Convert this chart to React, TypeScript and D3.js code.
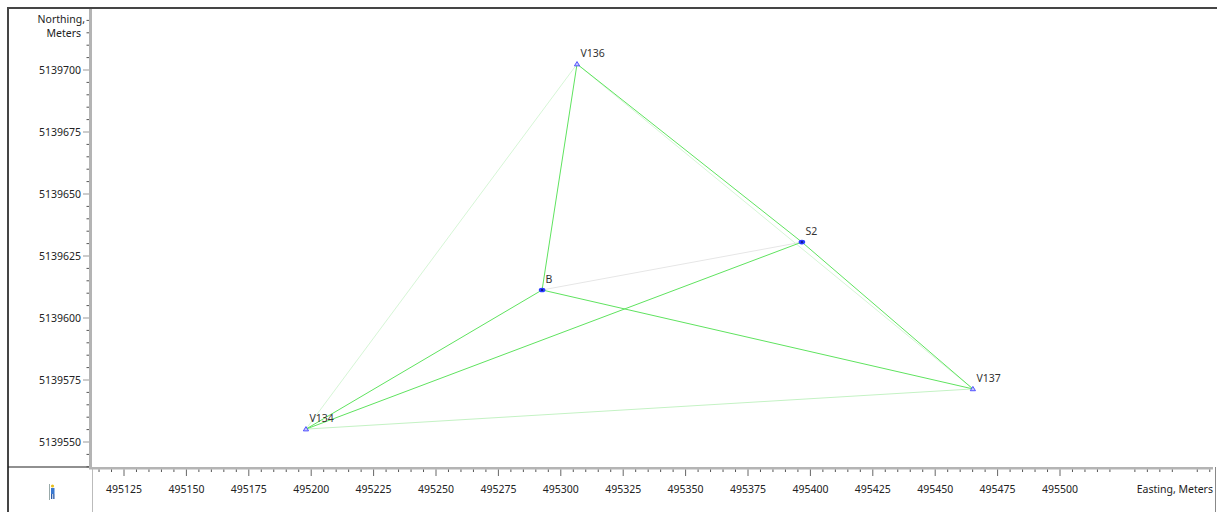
import React from "react";
import * as d3 from "d3";

const stations = ["V136", "S2", "B", "V137", "V134"];
const eastings = [495306.5, 495396.6, 495292.5, 495465.1, 495197.9];
const northings = [5139702.4, 5139630.6, 5139611.3, 5139571.4, 5139555.2];
const markerKinds = ["tri", "dot", "dot", "tri", "tri"];

// observations: from, to, strength
const obsFrom = ["V136", "V136", "S2", "B", "B", "S2", "V136", "V134", "B", "V136"];
const obsTo = ["B", "S2", "V137", "V137", "V134", "V134", "V134", "V137", "S2", "V137"];
const obsKind = ["strong", "strong", "strong", "strong", "strong", "strong", "faint", "light", "gray", "faint"];

const xTickValues = [495125, 495150, 495175, 495200, 495225, 495250, 495275, 495300, 495325, 495350, 495375, 495400, 495425, 495450, 495475, 495500];
const yTickValues = [5139550, 5139575, 5139600, 5139625, 5139650, 5139675, 5139700];

const FONT = "'Noto Sans', 'Open Sans', sans-serif";

export default function App() {
  const x = d3.scaleLinear().domain([495125, 495500]).range([124, 1060]);
  const y = d3.scaleLinear().domain([5139550, 5139700]).range([442, 70]);

  const axisY = 467;
  const axisX = 92;

  const xMin = Math.ceil(x.invert(axisX) / 5) * 5;
  const xMax = Math.floor(x.invert(1215) / 5) * 5;
  const xMinor = d3.range(xMin, xMax + 0.1, 5).filter((v) => v % 25 !== 0);
  const yMin = Math.ceil(y.invert(axisY) / 5) * 5;
  const yMax = Math.floor(y.invert(12) / 5) * 5;
  const yMinor = d3.range(yMin, yMax + 0.1, 5).filter((v) => v % 25 !== 0);

  const idx = (name: string) => stations.indexOf(name);
  const strokeFor: Record<string, string> = {
    strong: "#5fe35f",
    light: "#c4f2c4",
    faint: "#d6f6d6",
    gray: "#e6e6e6",
  };

  const order = ["gray", "faint", "light", "strong"];

  return (
    <svg
      width={1217}
      height={512}
      style={{ position: "absolute", left: 0, top: 0, display: "block", background: "#fff" }}
    >
      {/* outer frame */}
      <line x1={7} y1={8} x2={1217} y2={8} stroke="#454545" strokeWidth={2} />
      <line x1={8} y1={7} x2={8} y2={512} stroke="#454545" strokeWidth={2} />
      <line x1={8} y1={467} x2={axisX} y2={467} stroke="#222" strokeWidth={1.2} />
      <line x1={axisX + 0.5} y1={467} x2={axisX + 0.5} y2={512} stroke="#bbb" strokeWidth={1} />
      <line x1={1215.5} y1={467} x2={1215.5} y2={512} stroke="#888" strokeWidth={1} />

      {/* observation lines */}
      {order.map((k) =>
        obsFrom.map((f, i) => {
          if (obsKind[i] !== k) return null;
          const a = idx(f);
          const b = idx(obsTo[i]);
          return (
            <line
              key={k + i}
              x1={x(eastings[a])}
              y1={y(northings[a])}
              x2={x(eastings[b])}
              y2={y(northings[b])}
              stroke={strokeFor[k]}
              strokeWidth={1}
            />
          );
        })
      )}

      {/* station markers */}
      {stations.map((s, i) => {
        const px = x(eastings[i]);
        const py = y(northings[i]);
        if (markerKinds[i] === "tri") {
          return (
            <path
              key={s}
              d={`M${px},${py - 2.5} L${px + 2.6},${py + 1.8} L${px - 2.6},${py + 1.8} Z`}
              fill="#c8c8ff"
              stroke="#4444ff"
              strokeWidth={0.9}
            />
          );
        }
        return (
          <g key={s}>
            <ellipse cx={px} cy={py} rx={3.3} ry={2.3} fill="#2a3cff" />
            <rect x={px - 1} y={py - 1} width={2} height={2} fill="#101a90" />
          </g>
        );
      })}

      {/* station labels */}
      {stations.map((s, i) => (
        <text
          key={"l" + s}
          x={x(eastings[i]) + 3.5}
          y={y(northings[i]) - 7}
          fontFamily={FONT}
          fontSize={10.5}
          fill="#333"
        >
          {s}
        </text>
      ))}

      {/* Y axis */}
      <rect x={axisX - 3} y={9} width={3} height={axisY - 9} fill="#b4b4b4" />
      {yMinor.map((v) => (
        <line key={"ym" + v} x1={axisX - 5.5} y1={y(v)} x2={axisX - 3} y2={y(v)} stroke="#555" strokeWidth={1} />
      ))}
      {yTickValues.map((v) => (
        <g key={"yt" + v}>
          <line x1={axisX - 9} y1={y(v)} x2={axisX - 3} y2={y(v)} stroke="#999" strokeWidth={1} />
          <text
            x={axisX - 11}
            y={y(v) + 3.8}
            textAnchor="end"
            fontFamily={FONT}
            fontSize={10.5}
            fill="#222"
          >
            {v}
          </text>
        </g>
      ))}
      <text x={85} y={23} textAnchor="end" fontFamily={FONT} fontSize={10.5} fill="#222">
        Northing,
      </text>
      <text x={81} y={37} textAnchor="end" fontFamily={FONT} fontSize={10.5} fill="#222">
        Meters
      </text>

      {/* X axis */}
      <rect x={axisX - 3} y={axisY} width={1217 - axisX - 1} height={2.5} fill="#b4b4b4" />
      {xMinor.map((v) => (
        <line key={"xm" + v} x1={x(v)} y1={axisY + 2.5} x2={x(v)} y2={axisY + 5} stroke="#555" strokeWidth={1} />
      ))}
      {xTickValues.map((v) => (
        <g key={"xt" + v}>
          <line x1={x(v)} y1={axisY + 2.5} x2={x(v)} y2={axisY + 9} stroke="#666" strokeWidth={1} />
          <text
            x={x(v)}
            y={493}
            textAnchor="middle"
            fontFamily={FONT}
            fontSize={10.5}
            fill="#222"
          >
            {v}
          </text>
        </g>
      ))}
      <text x={1213} y={493} textAnchor="end" fontFamily={FONT} fontSize={10.5} fill="#222">
        Easting, Meters
      </text>

      {/* small surveyor icon */}
      <g>
        <line x1={49.5} y1={484} x2={49.5} y2={500} stroke="#9aa" strokeWidth={1} />
        <circle cx={52.5} cy={486} r={1.6} fill="#e8c020" />
        <rect x={51} y={488} width={3.5} height={6} fill="#3a78d0" />
        <rect x={51} y={494} width={1.3} height={5} fill="#2a5aa8" />
        <rect x={53.2} y={494} width={1.3} height={5} fill="#2a5aa8" />
      </g>
    </svg>
  );
}
